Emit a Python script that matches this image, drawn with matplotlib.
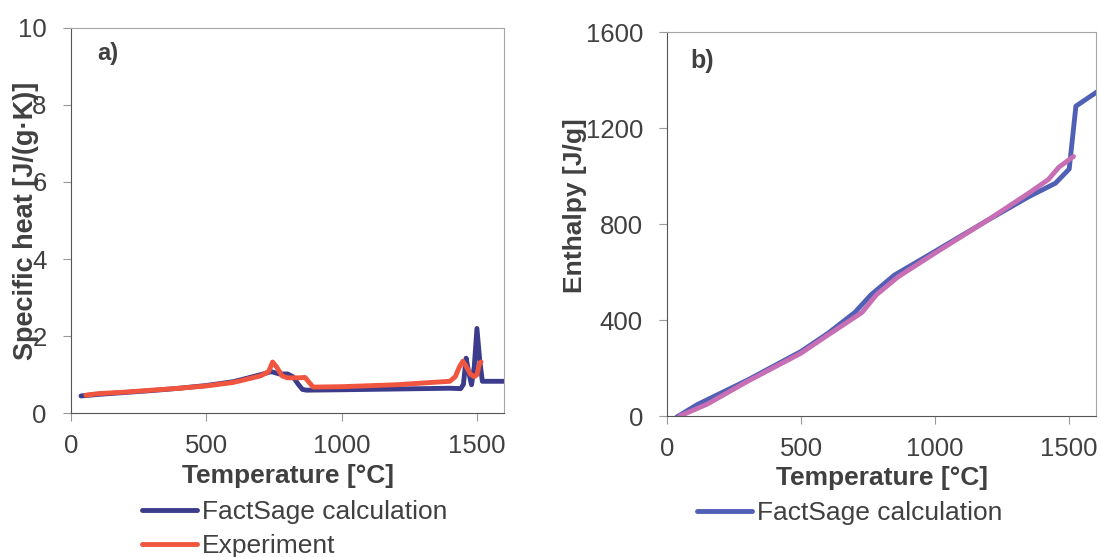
import numpy as np
import matplotlib
matplotlib.use('Agg')
import matplotlib.pyplot as plt

plt.rcParams['font.family'] = ['Liberation Sans', 'DejaVu Sans']

# a) specific heat, J/(g K)
t_calc_a = [37, 100, 200, 300, 400, 500, 600, 650, 700, 740, 770, 800, 820, 840, 855, 870,
            1000, 1200, 1400, 1440, 1450, 1460, 1470, 1480, 1490, 1500, 1510, 1520, 1600]
cp_calc = [0.45, 0.49, 0.54, 0.59, 0.65, 0.72, 0.82, 0.91, 1.00, 1.08, 1.02, 1.02, 0.95, 0.75,
           0.62, 0.60, 0.61, 0.63, 0.65, 0.64, 0.75, 1.43, 1.05, 0.74, 1.20, 2.20, 1.40, 0.83, 0.83]

t_exp_a = [55, 100, 200, 300, 400, 500, 600, 700, 730, 745, 760, 780, 800, 840, 865, 880, 895,
           1000, 1200, 1400, 1420, 1435, 1448, 1460, 1475, 1490, 1500, 1510, 1515]
cp_exp = [0.47, 0.51, 0.55, 0.60, 0.65, 0.71, 0.80, 0.97, 1.08, 1.33, 1.20, 0.97, 0.92, 0.92,
          0.93, 0.80, 0.68, 0.69, 0.74, 0.83, 0.95, 1.20, 1.35, 1.22, 1.02, 0.95, 1.00, 1.30, 1.33]

# b) enthalpy, J/g
t_calc_b = [36, 111, 300, 499, 600, 700, 760, 847, 994, 1195, 1350, 1449, 1500, 1525, 1603]
h_calc = [-4, 47, 150, 269, 345, 432, 505, 587, 683, 816, 915, 971, 1030, 1292, 1351]

t_exp_b = [47, 150, 300, 499, 600, 727, 780, 861, 1000, 1195, 1350, 1422, 1462, 1516]
h_exp = [0, 50, 145, 262, 338, 432, 505, 580, 680, 816, 930, 986, 1038, 1082]

W, H = 1101, 557
txt = '#404040'
fig = plt.figure(figsize=(W / 100, H / 100), dpi=100)
ax1 = fig.add_axes([71 / W, 1 - 413.3 / H, 433 / W, 385.6 / H])
ax2 = fig.add_axes([667.3 / W, 1 - 416 / H, 428.7 / W, 383.7 / H])

for ax in (ax1, ax2):
    ax.spines['left'].set_color('#555555')
    ax.spines['bottom'].set_color('#555555')
    ax.spines['top'].set_color('#a6a6a6')
    ax.spines['right'].set_color('#a6a6a6')
    ax.tick_params(direction='out', length=6, color='#999999', labelsize=18.5,
                   labelcolor=txt)
    ax.tick_params(axis='x', pad=9)
    ax.tick_params(axis='y', pad=11.5)
    ax.set_xlim(0, 1600)
    ax.set_xticks([0, 500, 1000, 1500])
    ax.set_xlabel('Temperature [°C]', fontsize=19, fontweight='bold', color=txt, labelpad=4)

l1, = ax1.plot(t_calc_a, cp_calc, color='#3c3c8c', lw=3.5, solid_joinstyle='round',
               solid_capstyle='round')
l2, = ax1.plot(t_exp_a, cp_exp, color='#f05540', lw=3.5, solid_joinstyle='round',
               solid_capstyle='round')
ax1.set_ylim(0, 10)
ax1.set_yticks([0, 2, 4, 6, 8, 10])
ax1.set_ylabel('Specific heat [J/(g·K)]', fontsize=19.5, fontweight='bold', color=txt)
ax1.yaxis.set_label_coords(-0.074, 0.5)
ax1.text(0.06, 0.916, 'a)', transform=ax1.transAxes, fontsize=17, fontweight='bold', color=txt)
ax1.legend([l1, l2], ['FactSage calculation', 'Experiment'], loc='upper left',
           bbox_to_anchor=(142 / W, 1 - 500 / H), bbox_transform=fig.transFigure,
           frameon=False, fontsize=19, handlelength=2.08, handletextpad=0.19,
           labelspacing=0.38, borderpad=0, borderaxespad=0, labelcolor=txt)

l3, = ax2.plot(t_calc_b, h_calc, color='#5060b4', lw=3.5, solid_joinstyle='round',
               solid_capstyle='round')
ax2.plot(t_exp_b, h_exp, color='#c86eb4', lw=3.5, solid_joinstyle='round',
         solid_capstyle='round')
ax2.set_ylim(0, 1600)
ax2.set_yticks([0, 400, 800, 1200, 1600])
ax2.set_ylabel('Enthalpy [J/g]', fontsize=19, fontweight='bold', color=txt)
ax2.yaxis.set_label_coords(-0.188, 0.547)
ax2.text(0.054, 0.906, 'b)', transform=ax2.transAxes, fontsize=18, fontweight='bold', color=txt)
ax2.legend([l3], ['FactSage calculation'], loc='upper left',
           bbox_to_anchor=(697 / W, 1 - 501 / H), bbox_transform=fig.transFigure,
           frameon=False, fontsize=19, handlelength=2.08, handletextpad=0.19,
           borderpad=0, borderaxespad=0, labelcolor=txt)

fig.savefig('out.png', dpi=100)
